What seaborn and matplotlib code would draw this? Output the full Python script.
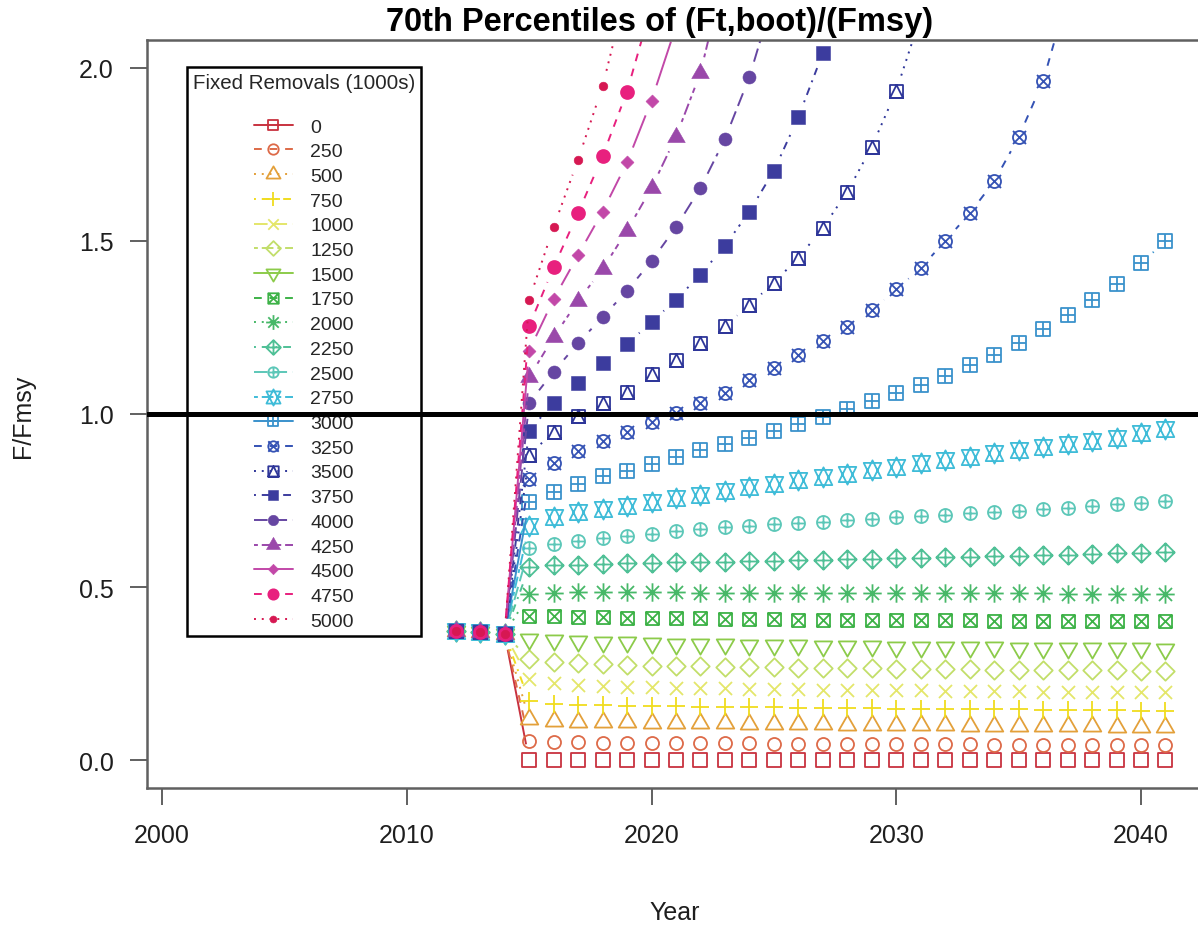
import numpy as np
import pandas as pd
import matplotlib
matplotlib.use("Agg")
import matplotlib.pyplot as plt
import seaborn as sns
from matplotlib.path import Path
from matplotlib.lines import Line2D
from matplotlib.collections import LineCollection

# --- data ---
hist_years = [2012, 2013, 2014]
hist_ff = [0.374, 0.369, 0.364]
proj_years = list(range(2015, 2042))

removals = ["0", "250", "500", "750", "1000", "1250", "1500", "1750", "2000", "2250",
            "2500", "2750", "3000", "3250", "3500", "3750", "4000", "4250", "4500",
            "4750", "5000"]

ff_0 = [0.0, 0.0, 0.0, 0.0, 0.0, 0.0, 0.0, 0.0, 0.0, 0.0, 0.0, 0.0, 0.0, 0.0,
        0.0, 0.0, 0.0, 0.0, 0.0, 0.0, 0.0, 0.0, 0.0, 0.0, 0.0, 0.0, 0.0]
ff_250 = [0.056, 0.052, 0.051, 0.050, 0.050, 0.049, 0.049, 0.048, 0.048, 0.048, 0.047,
          0.047, 0.047, 0.046, 0.046, 0.046, 0.045, 0.045, 0.045, 0.044, 0.044, 0.044,
          0.043, 0.043, 0.043, 0.042, 0.042]
ff_500 = [0.118, 0.113, 0.111, 0.110, 0.109, 0.108, 0.107, 0.106, 0.106, 0.105, 0.104,
          0.104, 0.103, 0.102, 0.102, 0.101, 0.100, 0.100, 0.099, 0.099, 0.098, 0.098,
          0.097, 0.097, 0.096, 0.096, 0.095]
ff_750 = [0.171, 0.163, 0.160, 0.158, 0.157, 0.156, 0.155, 0.154, 0.153, 0.152, 0.152,
          0.151, 0.150, 0.150, 0.149, 0.148, 0.148, 0.147, 0.147, 0.146, 0.146, 0.145,
          0.145, 0.144, 0.144, 0.143, 0.143]
ff_1000 = [0.234, 0.222, 0.217, 0.214, 0.212, 0.210, 0.209, 0.208, 0.207, 0.206, 0.205,
           0.204, 0.203, 0.203, 0.202, 0.201, 0.201, 0.200, 0.200, 0.199, 0.199, 0.198,
           0.198, 0.197, 0.197, 0.196, 0.196]
ff_1250 = [0.292, 0.284, 0.280, 0.277, 0.275, 0.273, 0.272, 0.271, 0.270, 0.269, 0.268,
           0.267, 0.266, 0.265, 0.265, 0.264, 0.263, 0.263, 0.262, 0.261, 0.261, 0.260,
           0.260, 0.259, 0.259, 0.258, 0.258]
ff_1500 = [0.350, 0.347, 0.344, 0.342, 0.340, 0.338, 0.336, 0.335, 0.334, 0.333, 0.332,
           0.331, 0.330, 0.329, 0.329, 0.328, 0.327, 0.327, 0.326, 0.326, 0.325, 0.325,
           0.324, 0.324, 0.323, 0.323, 0.322]
ff_1750 = [0.416, 0.415, 0.413, 0.412, 0.411, 0.410, 0.409, 0.409, 0.408, 0.407, 0.407,
           0.406, 0.406, 0.405, 0.405, 0.405, 0.404, 0.404, 0.404, 0.403, 0.403, 0.403,
           0.403, 0.402, 0.402, 0.402, 0.402]
ff_2000 = [0.480, 0.484, 0.485, 0.485, 0.485, 0.485, 0.485, 0.484, 0.484, 0.484, 0.484,
           0.484, 0.483, 0.483, 0.483, 0.483, 0.483, 0.482, 0.482, 0.482, 0.482, 0.482,
           0.481, 0.481, 0.481, 0.481, 0.481]
ff_2250 = [0.558, 0.563, 0.565, 0.567, 0.568, 0.569, 0.571, 0.572, 0.573, 0.575, 0.576,
           0.577, 0.579, 0.580, 0.581, 0.583, 0.584, 0.586, 0.587, 0.589, 0.590, 0.592,
           0.593, 0.595, 0.597, 0.598, 0.600]
ff_2500 = [0.612, 0.624, 0.634, 0.643, 0.648, 0.653, 0.662, 0.667, 0.672, 0.677, 0.681,
           0.685, 0.689, 0.693, 0.697, 0.701, 0.705, 0.709, 0.713, 0.717, 0.721, 0.725,
           0.729, 0.734, 0.739, 0.744, 0.749]
ff_2750 = [0.676, 0.702, 0.716, 0.725, 0.734, 0.745, 0.757, 0.766, 0.777, 0.788, 0.798,
           0.808, 0.818, 0.828, 0.838, 0.848, 0.858, 0.867, 0.877, 0.886, 0.895, 0.904,
           0.913, 0.922, 0.932, 0.944, 0.957]
ff_3000 = [0.746, 0.775, 0.798, 0.820, 0.836, 0.855, 0.875, 0.897, 0.913, 0.932, 0.952,
           0.972, 0.992, 1.014, 1.038, 1.060, 1.083, 1.110, 1.142, 1.170, 1.205, 1.245,
           1.285, 1.330, 1.377, 1.435, 1.500]
ff_3250 = [0.812, 0.858, 0.894, 0.923, 0.948, 0.977, 1.004, 1.032, 1.061, 1.098, 1.132,
           1.170, 1.210, 1.252, 1.300, 1.360, 1.422, 1.500, 1.580, 1.672, 1.800, 1.962,
           2.210]
ff_3500 = [0.881, 0.949, 0.994, 1.032, 1.063, 1.116, 1.157, 1.205, 1.254, 1.315, 1.380,
           1.451, 1.538, 1.642, 1.772, 1.934, 2.150]
ff_3750 = [0.952, 1.032, 1.090, 1.147, 1.202, 1.266, 1.330, 1.403, 1.486, 1.585, 1.703,
           1.858, 2.043, 2.270]
ff_4000 = [1.032, 1.122, 1.205, 1.280, 1.356, 1.442, 1.540, 1.653, 1.795, 1.974, 2.210]
ff_4250 = [1.106, 1.222, 1.327, 1.419, 1.530, 1.653, 1.801, 1.986, 2.280]
ff_4500 = [1.183, 1.332, 1.459, 1.585, 1.727, 1.906, 2.120]
ff_4750 = [1.254, 1.424, 1.581, 1.745, 1.932, 2.180]
ff_5000 = [1.330, 1.540, 1.735, 1.947, 2.230]

series = [ff_0, ff_250, ff_500, ff_750, ff_1000, ff_1250, ff_1500, ff_1750, ff_2000,
          ff_2250, ff_2500, ff_2750, ff_3000, ff_3250, ff_3500, ff_3750, ff_4000,
          ff_4250, ff_4500, ff_4750, ff_5000]

colors = ["#C8323F", "#DD6A48", "#E3A03A", "#F0DC1E", "#E4E66A", "#C2DE6A", "#8CCB4A",
          "#3DB247", "#47B868", "#4FC096", "#5CC7B8", "#3FBCD8", "#3A92CC", "#3452B4",
          "#2E3699", "#3C3C9E", "#6646A2", "#9A48AA", "#C248A8", "#E8207E", "#D61852"]

# R pch symbol number and lty for each series
pch_codes = [0, 1, 2, 3, 4, 5, 6, 7, 8, 9, 10, 11, 12, 13, 14, 15, 16, 17, 18, 19, 20]
lty_codes = [1, 2, 3, 4, 5, 6, 1, 2, 3, 4, 5, 6, 1, 2, 3, 4, 5, 6, 1, 2, 3]

# --- R style symbols ---
RAD = 0.375
SMALL = 0.25
TRC0, TRC1, TRC2 = 1.5551, 1.3468, 0.7776
CHAR_PT = 12.5
GAP_PX = 16

dash_map = {1: None, 2: (4, 4), 3: (1, 3), 4: (1, 3, 4, 3), 5: (7, 3), 6: (2, 2, 6, 2)}


def polygon(pts):
    verts = list(pts) + [pts[0]]
    codes = [Path.MOVETO] + [Path.LINETO] * (len(pts) - 1) + [Path.CLOSEPOLY]
    return Path(verts, codes)


def segments(*segs):
    verts, codes = [], []
    for x0, y0, x1, y1 in segs:
        verts += [(x0, y0), (x1, y1)]
        codes += [Path.MOVETO, Path.LINETO]
    return Path(verts, codes)


def circle(r):
    c = Path.unit_circle()
    return Path(c.vertices * r, c.codes)


def square(r):
    return polygon([(-r, -r), (r, -r), (r, r), (-r, r)])


def diamond(r):
    return polygon([(-r, 0), (0, -r), (r, 0), (0, r)])


def plus(r):
    return segments((-r, 0, r, 0), (0, -r, 0, r))


def cross(r):
    return segments((-r, -r, r, r), (-r, r, r, -r))


def tri_up():
    xc, r, yc = TRC1 * RAD, TRC0 * RAD, TRC2 * RAD
    return polygon([(0, r), (xc, -yc), (-xc, -yc)])


def tri_down():
    xc, r, yc = TRC1 * RAD, TRC0 * RAD, TRC2 * RAD
    return polygon([(0, -r), (xc, yc), (-xc, yc)])


def star_david():
    xc, r = TRC1 * RAD, TRC0 * RAD
    yc = 0.5 * (TRC2 * RAD + r)
    return Path.make_compound_path(polygon([(0, r), (xc, -yc), (-xc, -yc)]),
                                   polygon([(0, -r), (xc, yc), (-xc, yc)]))


def pch_marker(code):
    s2 = np.sqrt(2) * RAD
    table = {
        0: (square(RAD), False),
        1: (circle(RAD), False),
        2: (tri_up(), False),
        3: (plus(s2), False),
        4: (cross(RAD), False),
        5: (diamond(s2), False),
        6: (tri_down(), False),
        7: (Path.make_compound_path(square(RAD), cross(RAD)), False),
        8: (Path.make_compound_path(plus(s2), cross(RAD)), False),
        9: (Path.make_compound_path(diamond(s2), plus(s2)), False),
        10: (Path.make_compound_path(circle(RAD), plus(RAD)), False),
        11: (star_david(), False),
        12: (Path.make_compound_path(square(RAD), plus(RAD)), False),
        13: (Path.make_compound_path(circle(RAD), cross(RAD)), False),
        14: (Path.make_compound_path(square(RAD),
                                     polygon([(-RAD, -RAD), (0, RAD), (RAD, -RAD)])), False),
        15: (square(RAD), True),
        16: (circle(RAD), True),
        17: (tri_up(), True),
        18: (diamond(RAD), True),
        19: (circle(RAD), True),
        20: (circle(SMALL), True),
    }
    path, filled = table[code]
    size = 2 * np.max(np.abs(path.vertices)) * CHAR_PT
    return path, filled, size


def marker_kws(code, color):
    path, filled, size = pch_marker(code)
    if filled:
        mew = 1.2 if code == 19 else 0.4
        return dict(marker=path, markersize=size, markerfacecolor=color,
                    markeredgecolor=color, markeredgewidth=mew)
    return dict(marker=path, markersize=size, markerfacecolor="none",
                markeredgecolor=color, markeredgewidth=1.3)


def gapped_segments(ax, xs, ys, gap):
    # like R type="b": leave a gap around every point
    pts = ax.transData.transform(np.column_stack([xs, ys]))
    inv = ax.transData.inverted()
    segs = []
    for p0, p1 in zip(pts[:-1], pts[1:]):
        d = p1 - p0
        length = np.hypot(d[0], d[1])
        if length > 2 * gap:
            u = d / length
            segs.append(inv.transform(np.vstack([p0 + u * gap, p1 - u * gap])))
    return segs


# --- figure ---
sns.set_theme(style="ticks")
plt.rcParams["font.family"] = ["Liberation Sans", "DejaVu Sans"]

rows = []
for name, vals in zip(removals, series):
    for yr, v in zip(hist_years, hist_ff):
        rows.append({"removal": name, "year": yr, "ff": v})
    for yr, v in zip(proj_years, vals):
        rows.append({"removal": name, "year": yr, "ff": v})
df = pd.DataFrame(rows)

W, H = 1198, 928
fig = plt.figure(figsize=(W / 100, H / 100), dpi=100)
px_per_year = 24.475
x0_px, right_px = 147, 1230
top_px, bottom_px = 41.3, 788.7
ax = fig.add_axes([x0_px / W, (H - bottom_px) / H, (right_px - x0_px) / W,
                   (bottom_px - top_px) / H])
xlim = (2000 + (x0_px - 162) / px_per_year, 2000 + (right_px - 162) / px_per_year)
ax.set_xlim(xlim)
ax.set_ylim(-0.08, 2.08)

LW = 1.4
handles = []
for i, name in enumerate(removals):
    sub = df[df["removal"] == name]
    col = colors[i]
    dashes = dash_map[lty_codes[i]]
    ls = "-" if dashes is None else (0, dashes)
    segs = gapped_segments(ax, sub["year"].values, sub["ff"].values, GAP_PX)
    lc = LineCollection(segs, colors=col, linewidths=LW, linestyles=ls)
    ax.add_collection(lc)
    mk = marker_kws(pch_codes[i], col)
    sns.lineplot(data=sub, x="year", y="ff", linestyle="", ax=ax, legend=False,
                 estimator=None, **mk)
    handles.append(Line2D([], [], color=col, lw=LW, linestyle=ls, **mk))

ax.set_xlim(xlim)
ax.set_ylim(-0.08, 2.08)

ax.axhline(1.0, color="black", lw=3.6, zorder=10)

ax.set_xticks([2000, 2010, 2020, 2030, 2040])
ax.set_yticks([0.0, 0.5, 1.0, 1.5, 2.0])
ax.set_yticklabels(["0.0", "0.5", "1.0", "1.5", "2.0"])
ax.tick_params(axis="both", labelsize=18, length=12.2, width=1.4, color="#606060",
               labelcolor="#1e1e1e")
ax.tick_params(axis="y", pad=12)
ax.tick_params(axis="x", pad=13)
for side in ["left", "top", "bottom"]:
    ax.spines[side].set_color("#606060")
    ax.spines[side].set_linewidth(1.8)
ax.spines["right"].set_visible(False)
ax.set_xlabel("")
ax.set_ylabel("")

leg = ax.legend(handles, removals, title="Fixed Removals (1000s)\n", loc="upper left",
                bbox_to_anchor=((187 - x0_px) / (right_px - x0_px),
                                (bottom_px - 68) / (bottom_px - top_px)),
                borderaxespad=0, frameon=True, fancybox=False, fontsize=14,
                title_fontsize=14.8, handlelength=2.0, handletextpad=0.9,
                labelspacing=0.365, borderpad=0.3, framealpha=1, markerscale=0.8)
leg.get_title().set_linespacing(1.0)
leg.get_frame().set_edgecolor("black")
leg.get_frame().set_linewidth(1.8)
leg.set_zorder(5)

fig.text(660 / W, 1 - 22 / H, "70th Percentiles of (Ft,boot)/(Fmsy)", fontsize=23.5,
         fontweight="bold", ha="center", va="center", color="black")
fig.text(675 / W, 1 - 913 / H, "Year", fontsize=18, ha="center", va="center",
         color="#1e1e1e")
fig.text(23 / W, 1 - 416 / H, "F/Fmsy", fontsize=18, ha="center", va="center",
         rotation=90, color="#1e1e1e")

fig.savefig("out.png", dpi=100)
